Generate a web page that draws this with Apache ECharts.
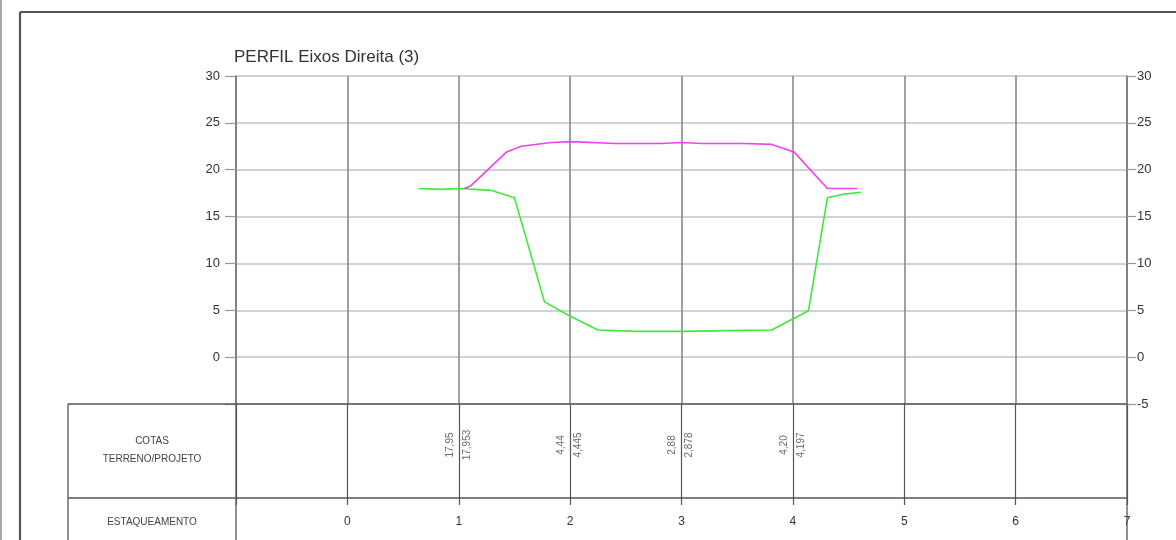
<!DOCTYPE html>
<html><head><meta charset="utf-8">
<script src="https://cdn.jsdelivr.net/npm/echarts@6/dist/echarts.min.js"></script>
<style>html,body{margin:0;padding:0;background:#fff}#c{width:1176px;height:540px}</style>
</head><body><div id="c"></div>
<script>
const titleText = 'PERFIL Eixos Direita (3)';
const yTicks = [-5, 0, 5, 10, 15, 20, 25, 30];
const stations = [0, 1, 2, 3, 4, 5, 6, 7];
const terreno = [[0.64,18.0],[0.84,17.9],[1.02,18.0],[1.29,17.8],[1.50,17.0],[1.77,5.9],[1.98,4.5],[2.25,2.9],[2.6,2.75],[3.0,2.75],[3.27,2.8],[3.81,2.9],[4.14,4.95],[4.31,17.0],[4.46,17.4],[4.61,17.6]];
const projeto = [[1.05,18.0],[1.11,18.3],[1.43,21.9],[1.56,22.5],[1.83,22.9],[2.01,23.0],[2.40,22.8],[2.82,22.8],[3.0,22.9],[3.18,22.8],[3.56,22.8],[3.81,22.7],[4.01,21.9],[4.31,18.0],[4.58,18.0]];
const cotaStations = [1, 2, 3, 4];
const cotaTerreno = [17.95, 4.44, 2.88, 4.20];
const cotaProjeto = [17.953, 4.445, 2.878, 4.197];

const fmt = (v, d) => v.toFixed(d).replace('.', ',');
const font = 'Liberation Sans, Arial, sans-serif';
const chart = echarts.init(document.getElementById('c'));
const L = 236, R = 1127, T = 76, B = 404, B2 = 498;
const dark = '#555';
function ln(x1,y1,x2,y2,c,w){return {type:'line',shape:{x1,y1,x2,y2},style:{stroke:c||dark,lineWidth:w||1.3},z:10};}
chart.setOption({
  animation:false,
  textStyle:{fontFamily:font},
  grid:[{left:L,right:1176-R,top:T,bottom:540-B},{left:L,right:1176-R,top:B,bottom:540-B2}],
  xAxis:[
    {type:'value',gridIndex:0,min:-1,max:7,interval:1,axisLine:{show:false,onZero:false},axisTick:{show:false},axisLabel:{show:false},
     splitLine:{show:true,lineStyle:{color:'#8a8a8a',width:1.6}}},
    {type:'value',gridIndex:1,min:-1,max:7,interval:1,position:'bottom',axisLine:{show:false,onZero:false},
     axisTick:{show:true,length:7,lineStyle:{color:dark,width:1.2}},
     axisLabel:{margin:18,fontSize:12,color:'#333',formatter:v=>stations.includes(v)?String(v):''},
     splitLine:{show:true,lineStyle:{color:dark,width:1.2}}}
  ],
  yAxis:[
    {type:'value',gridIndex:0,min:-5,max:30,interval:5,position:'left',
     axisLine:{show:true,onZero:false,lineStyle:{color:'#777',width:1.5}},
     axisTick:{show:true,length:11,lineStyle:{color:'#999',width:1.2}},
     axisLabel:{fontSize:13,color:'#333',margin:16,formatter:v=>v===-5?'':String(v)},
     splitLine:{show:true,lineStyle:{color:'#d2d2d2',width:2}}},
    {type:'value',gridIndex:0,min:-5,max:30,interval:5,position:'right',
     axisLine:{show:true,onZero:false,lineStyle:{color:'#777',width:1.5}},
     axisTick:{show:true,length:9,lineStyle:{color:'#999',width:1.2}},
     axisLabel:{fontSize:13,color:'#333',margin:10,formatter:v=>yTicks.includes(v)?String(v):''},
     splitLine:{show:false}},
    {type:'value',gridIndex:1,min:0,max:1,show:false}
  ],
  series:[
    {type:'line',xAxisIndex:0,yAxisIndex:0,data:terreno,symbol:'none',lineStyle:{color:'#3ee83e',width:1.6},z:5},
    {type:'line',xAxisIndex:0,yAxisIndex:0,data:projeto,symbol:'none',lineStyle:{color:'#f040f0',width:1.6},z:6},
    {type:'scatter',xAxisIndex:1,yAxisIndex:2,symbolSize:0,
     data:cotaStations.map((s,i)=>({value:[s,0.5],name:fmt(cotaTerreno[i],2)})),
     label:{show:true,rotate:90,position:'inside',offset:[6,-9],fontSize:10,color:'#444',formatter:p=>p.name}},
    {type:'scatter',xAxisIndex:1,yAxisIndex:2,symbolSize:0,
     data:cotaStations.map((s,i)=>({value:[s,0.5],name:fmt(cotaProjeto[i],3)})),
     label:{show:true,rotate:90,position:'inside',offset:[6,8],fontSize:10,color:'#444',formatter:p=>p.name}}
  ],
  graphic:[
    {type:'text',left:234,top:49,style:{text:titleText,fontSize:17,fill:'#333',fontFamily:font},z:10},
    ln(20,12,1176,12,'#555',2.2),
    ln(20,12,20,540,'#555',2.2),
    ln(1,0,1,540,'#aaa',2),
    ln(68,B,R,B,dark,1.3),
    ln(68,B2,R,B2,dark,1.3),
    ln(68,B,68,540,dark,1.3),
    ln(L,B,L,540,dark,1.3),
    ln(R,B,R,540,dark,1.3),
    {type:'text',x:152,y:441,style:{text:'COTAS',fontSize:10,fill:'#444',align:'center',verticalAlign:'middle',fontFamily:font},z:10},
    {type:'text',x:152,y:459,style:{text:'TERRENO/PROJETO',fontSize:10,fill:'#444',align:'center',verticalAlign:'middle',fontFamily:font},z:10},
    {type:'text',x:152,y:522,style:{text:'ESTAQUEAMENTO',fontSize:10,fill:'#444',align:'center',verticalAlign:'middle',fontFamily:font},z:10}
  ]
});
</script></body></html>
